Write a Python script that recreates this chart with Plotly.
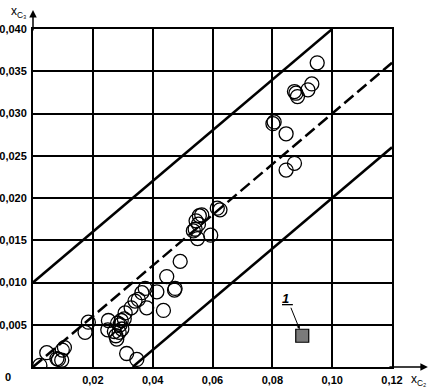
import plotly.graph_objects as go

# measured points (x_C2, x_C3)
x_pts = [0.0023, 0.0046, 0.0080, 0.0085, 0.0096, 0.0098, 0.0105,
         0.0174, 0.0185, 0.0250, 0.0252, 0.0272, 0.0277, 0.0280, 0.0283,
         0.0288, 0.0291, 0.0295, 0.0297, 0.0305, 0.0308, 0.0328, 0.0341,
         0.0352, 0.0364, 0.0375, 0.0414, 0.0380, 0.0313, 0.0347, 0.0436,
         0.0447, 0.0475, 0.0473, 0.0492, 0.0545, 0.0553, 0.0542, 0.0536,
         0.0550, 0.0594, 0.0556, 0.0564, 0.0616, 0.0625, 0.0806, 0.0802,
         0.0846, 0.0874, 0.0846, 0.0874, 0.0884, 0.0879, 0.0919, 0.0932,
         0.0950]
y_pts = [0.0002, 0.0017, 0.0010, 0.0009, 0.0008, 0.0020, 0.0023,
         0.0041, 0.0053, 0.0044, 0.0055, 0.0042, 0.0037, 0.0033, 0.0052,
         0.0041, 0.0050, 0.0055, 0.0045, 0.0057, 0.0064, 0.0070, 0.0078,
         0.0080, 0.0088, 0.0093, 0.0089, 0.0070, 0.0016, 0.0009, 0.0067,
         0.0107, 0.0093, 0.0091, 0.0125, 0.0173, 0.0169, 0.0163, 0.0161,
         0.0152, 0.0156, 0.0179, 0.0180, 0.0188, 0.0186, 0.0290, 0.0288,
         0.0276, 0.0241, 0.0233, 0.0326, 0.0320, 0.0324, 0.0328, 0.0335,
         0.0360]

# reference lines
mid_x = [0.0, 0.12]
mid_y = [0.0, 0.036]
up_x = [0.0, 0.10]
up_y = [0.010, 0.040]
lo_x = [0.0333, 0.12]
lo_y = [0.0, 0.026]

# legend item 1
leg_x = [0.0900]
leg_y = [0.0037]

x_ticks = [0.02, 0.04, 0.06, 0.08, 0.10, 0.12]
x_labels = ["0,02", "0,04", "0,06", "0,08", "0,10", "0,12"]
y_ticks = [0.005, 0.010, 0.015, 0.020, 0.025, 0.030, 0.035, 0.040]
y_labels = ["0,005", "0,010", "0,015", "0,020", "0,025", "0,030", "0,035", "0,040"]

fig = go.Figure()
fig.add_trace(go.Scatter(x=up_x, y=up_y, mode="lines",
                         line=dict(color="black", width=2.5)))
fig.add_trace(go.Scatter(x=lo_x, y=lo_y, mode="lines",
                         line=dict(color="black", width=2.5)))
fig.add_trace(go.Scatter(x=mid_x, y=mid_y, mode="lines",
                         line=dict(color="black", width=2.5, dash="12px,5px")))
fig.add_trace(go.Scatter(x=x_pts, y=y_pts, mode="markers",
                         marker=dict(symbol="circle-open", size=14, color="black",
                                     line=dict(width=1.3))))
fig.add_trace(go.Scatter(x=leg_x, y=leg_y, mode="markers",
                         marker=dict(symbol="square", size=13, color="#7a7a7a",
                                     line=dict(width=1.2, color="black"))))

font = dict(family="Liberation Sans, Arial, sans-serif", size=11, color="black", weight="bold")

fig.update_xaxes(range=[0, 0.12], tickvals=x_ticks, ticktext=x_labels,
                 showgrid=True, gridcolor="black", gridwidth=2,
                 showline=True, linecolor="black", linewidth=2, mirror=True,
                 zeroline=False, ticks="", tickfont=font, ticklabelstandoff=2,
                 automargin=False)
fig.update_yaxes(range=[0, 0.040], tickvals=y_ticks, ticktext=y_labels,
                 showgrid=True, gridcolor="black", gridwidth=2,
                 showline=True, linecolor="black", linewidth=2, mirror=True,
                 zeroline=False, ticks="", tickfont=font, ticklabelstandoff=2,
                 automargin=False)

annotations = [
    # origin label
    dict(xref="paper", yref="paper", x=0, y=0, text="<b>0</b>", showarrow=False,
         xanchor="right", yanchor="top", xshift=-20, yshift=-2,
         font=dict(family="Liberation Sans, Arial", size=11, color="black")),
    # x axis arrow
    dict(xref="paper", yref="paper", x=1.10, y=0, ax=-40, ay=0, text="",
         showarrow=True, arrowhead=2, arrowsize=1, arrowwidth=1.5, arrowcolor="black"),
    # y axis arrow
    dict(xref="paper", yref="paper", x=0, y=1.056, ax=0, ay=22, text="",
         showarrow=True, arrowhead=2, arrowsize=1, arrowwidth=1.5, arrowcolor="black"),
    # axis titles
    dict(xref="paper", yref="paper", x=1.048, y=0, text="x<sub>C₂</sub>", showarrow=False,
         xanchor="left", yanchor="top", yshift=-3,
         font=dict(family="Liberation Sans, Arial", size=12, color="black")),
    dict(xref="paper", yref="paper", x=0, y=1.0, text="x<sub>C₃</sub>", showarrow=False,
         xanchor="right", yanchor="bottom", xshift=-5, yshift=7,
         font=dict(family="Liberation Sans, Arial", size=12, color="black")),
    # label 1 with leader
    dict(x=leg_x[0], y=leg_y[0], ax=-15, ay=-37, text="<b><i><u>1 </u></i></b>",
         showarrow=True, arrowhead=2, arrowsize=0.7, arrowwidth=1, arrowcolor="black",
         standoff=7, font=dict(family="Liberation Sans, Arial", size=13, color="black")),
]

fig.update_layout(width=434, height=388, margin=dict(l=33, r=42, t=29, b=21),
                  plot_bgcolor="white", paper_bgcolor="white", showlegend=False,
                  annotations=annotations)

# remove the default 8px page margin so the figure fills the window exactly
fig.write_html("out.html", config={"displayModeBar": False},
               post_script="document.body.style.margin='0';")
